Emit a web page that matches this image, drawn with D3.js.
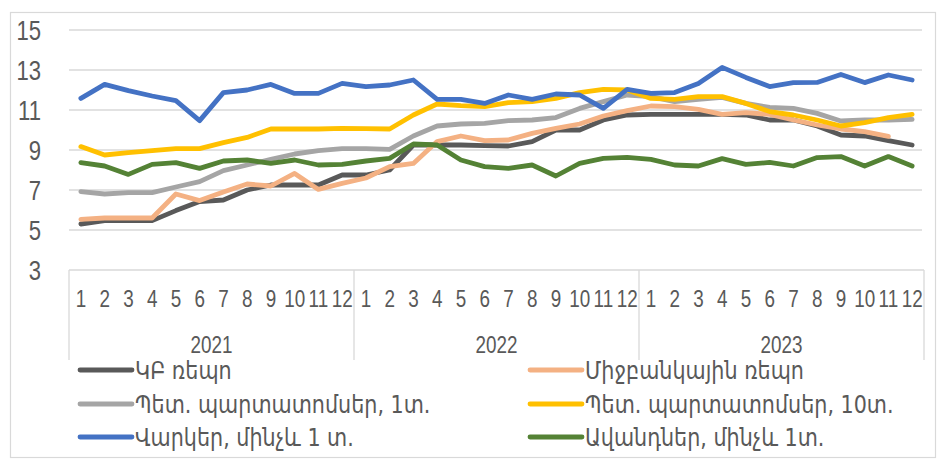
<!DOCTYPE html>
<html>
<head>
<meta charset="utf-8">
<script src="https://cdn.jsdelivr.net/npm/d3@7/dist/d3.min.js"></script>
<style>
  html, body { margin: 0; padding: 0; background: #fff; }
  svg { display: block; }
  text { fill: #595959; }
  .num { font-family: "Liberation Sans", Arial, sans-serif; }
  .arm { font-family: "DejaVu Sans Condensed", "DejaVu Sans", "Noto Sans", sans-serif; }
</style>
</head>
<body>
<svg id="chart" width="944" height="463"></svg>
<script>
// ---- data ----
const years = ["2021", "2022", "2023"];
const months = ["1","2","3","4","5","6","7","8","9","10","11","12"];
const yTicks = [3, 5, 7, 9, 11, 13, 15];

const seriesNames = [
  "ԿԲ ռեպո",
  "Միջբանկային ռեպո",
  "Պետ. պարտատոմսեր, 1տ.",
  "Պետ. պարտատոմսեր, 10տ.",
  "Վարկեր, մինչև 1 տ.",
  "Ավանդներ, մինչև 1տ."
];
const seriesColors = ["#595959", "#F4B183", "#A5A5A5", "#FFC000", "#4472C4", "#548235"];

const cbRepo = [5.3, 5.47, 5.47, 5.47, 5.97, 6.42, 6.5, 7.0, 7.25, 7.25, 7.25, 7.75,
                7.75, 8.0, 9.25, 9.25, 9.25, 9.22, 9.2, 9.42, 10.0, 10.0, 10.5, 10.75,
                10.78, 10.78, 10.78, 10.78, 10.75, 10.5, 10.5, 10.2, 9.75, 9.7, 9.47, 9.25];
const interbankRepo = [5.53, 5.6, 5.6, 5.6, 6.8, 6.47, 6.9, 7.3, 7.2, 7.83, 7.03, 7.33,
                       7.6, 8.17, 8.33, 9.42, 9.7, 9.47, 9.5, 9.83, 10.08, 10.3, 10.7, 10.97,
                       11.2, 11.17, 11.03, 10.78, 10.87, 10.78, 10.5, 10.25, 10.05, 9.92, 9.68, null];
const bonds1y = [6.92, 6.8, 6.87, 6.87, 7.15, 7.42, 7.97, 8.25, 8.53, 8.8, 8.97, 9.07,
                 9.07, 9.03, 9.7, 10.2, 10.3, 10.33, 10.47, 10.5, 10.62, 11.08, 11.42, 11.75,
                 11.67, 11.42, 11.53, 11.63, 11.33, 11.13, 11.08, 10.83, 10.45, 10.5, 10.5, 10.53];
const bonds10y = [9.17, 8.75, 8.87, 8.97, 9.07, 9.07, 9.37, 9.63, 10.05, 10.05, 10.05, 10.08,
                  10.07, 10.05, 10.75, 11.3, 11.22, 11.17, 11.37, 11.42, 11.58, 11.87, 12.03, 12.0,
                  11.58, 11.53, 11.67, 11.67, 11.33, 10.92, 10.75, 10.5, 10.2, 10.37, 10.62, 10.78];
const loans = [11.58, 12.28, 11.97, 11.7, 11.47, 10.47, 11.87, 12.0, 12.28, 11.83, 11.83, 12.33,
               12.17, 12.25, 12.5, 11.53, 11.53, 11.33, 11.75, 11.53, 11.8, 11.75, 11.08, 12.03,
               11.83, 11.87, 12.33, 13.13, 12.63, 12.17, 12.37, 12.38, 12.78, 12.37, 12.75, 12.5];
const deposits = [8.37, 8.2, 7.78, 8.28, 8.37, 8.08, 8.45, 8.5, 8.33, 8.5, 8.25, 8.28,
                  8.45, 8.58, 9.3, 9.25, 8.5, 8.17, 8.08, 8.25, 7.7, 8.33, 8.58, 8.63,
                  8.53, 8.25, 8.2, 8.57, 8.28, 8.38, 8.2, 8.62, 8.67, 8.2, 8.67, 8.2];

const seriesValues = [cbRepo, interbankRepo, bonds1y, bonds10y, loans, deposits];

// ---- layout ----
const svg = d3.select("#chart");
const plot = { left: 69, right: 924, top: 30, bottom: 270 };
const NARROW = 0.82;

// outer border
svg.append("rect")
  .attr("x", 10.5).attr("y", 12.5)
  .attr("width", 925).attr("height", 445)
  .attr("fill", "#fff").attr("stroke", "#d9d9d9").attr("stroke-width", 1.2);

const cats = [];
years.forEach(y => months.forEach(m => cats.push(y + "-" + m)));

const x = d3.scaleBand().domain(cats).range([plot.left, plot.right]).padding(0);
const y = d3.scaleLinear().domain([3, 15]).range([plot.bottom, plot.top]);

// gridlines
svg.append("g")
  .selectAll("line")
  .data(yTicks.slice(1))
  .join("line")
  .attr("x1", plot.left).attr("x2", plot.right - 2)
  .attr("y1", d => y(d)).attr("y2", d => y(d))
  .attr("stroke", "#d9d9d9").attr("stroke-width", 1.3);

// y axis labels
const yAxis = d3.axisLeft(y).tickValues(yTicks).tickSize(0).tickPadding(0);
const yg = svg.append("g").attr("transform", `translate(${41},0)`).call(yAxis);
yg.select(".domain").remove();
yg.selectAll("text")
  .attr("class", "num")
  .attr("font-size", 27)
  .attr("x", 0)
  .attr("dy", "0.36em")
  .attr("transform", `scale(${NARROW},1)`)
  .attr("fill", "#595959")
  .attr("font-family", null);

// x axis: line + year separators
const axisG = svg.append("g");
axisG.append("line")
  .attr("x1", plot.left).attr("x2", plot.right)
  .attr("y1", plot.bottom).attr("y2", plot.bottom)
  .attr("stroke", "#d9d9d9").attr("stroke-width", 1.3);

const yearBounds = years.map(yr => ({
  yr,
  x0: x(yr + "-1"),
  x1: x(yr + "-12") + x.bandwidth()
}));
const sepX = [yearBounds[0].x0].concat(yearBounds.map(b => b.x1));
axisG.selectAll("line.sep")
  .data(sepX)
  .join("line")
  .attr("class", "sep")
  .attr("x1", d => d).attr("x2", d => d)
  .attr("y1", plot.bottom).attr("y2", 360)
  .attr("stroke", "#d9d9d9").attr("stroke-width", 1.3);

// month labels via bottom axis
const xAxis = d3.axisBottom(x).tickSize(0).tickPadding(0).tickFormat(d => d.split("-")[1]);
const xg = svg.append("g").attr("transform", `translate(0,${299})`).call(xAxis);
xg.select(".domain").remove();
xg.selectAll("text")
  .attr("class", "num")
  .attr("font-size", 23)
  .attr("y", 0)
  .attr("dy", "0.36em")
  .attr("transform", `scale(${NARROW},1)`)
  .attr("fill", "#595959");
xg.attr("font-family", null);
yg.attr("font-family", null);

// year labels
axisG.selectAll("text.year")
  .data(yearBounds)
  .join("text")
  .attr("class", "num year")
  .attr("transform", d => `translate(${(d.x0 + d.x1) / 2},345) scale(${NARROW},1)`)
  .attr("dy", "0.36em")
  .attr("text-anchor", "middle")
  .attr("font-size", 23)
  .text(d => d.yr);

// lines
const line = d3.line()
  .defined(d => d.v != null)
  .x(d => x(d.c) + x.bandwidth() / 2)
  .y(d => y(d.v));

seriesValues.forEach((vals, si) => {
  const pts = vals.map((v, i) => ({ c: cats[i], v }));
  svg.append("path")
    .datum(pts)
    .attr("fill", "none")
    .attr("stroke", seriesColors[si])
    .attr("stroke-width", 4.8)
    .attr("stroke-linejoin", "round")
    .attr("stroke-linecap", "round")
    .attr("d", line);
});

// legend
const legendCols = [80, 530];
const legendRows = [370, 404, 437];
const leg = svg.append("g");
seriesNames.forEach((name, i) => {
  const cx = legendCols[i % 2];
  const cy = legendRows[Math.floor(i / 2)];
  leg.append("line")
    .attr("x1", cx).attr("x2", cx + 52)
    .attr("y1", cy).attr("y2", cy)
    .attr("stroke", seriesColors[i])
    .attr("stroke-width", 4.8)
    .attr("stroke-linecap", "round");
  leg.append("text")
    .attr("class", "arm")
    .attr("transform", `translate(${cx + 55},${cy}) scale(0.92,1)`)
    .attr("dy", "0.36em")
    .attr("font-size", 25)
    .text(name);
});
</script>
</body>
</html>
